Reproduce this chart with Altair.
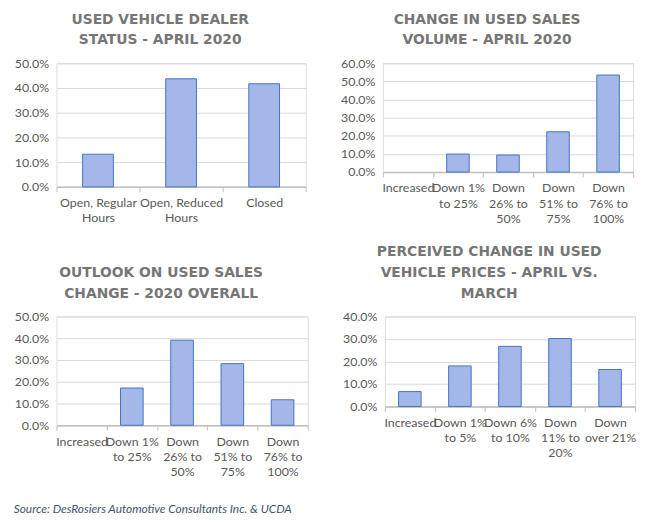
import altair as alt
import pandas as pd

# Panel 1
cats1 = ["Open, Regular|Hours", "Open, Reduced|Hours", "Closed"]
vals1 = [0.132, 0.437, 0.417]
title1 = ["USED VEHICLE DEALER", "STATUS - APRIL 2020"]

# Panel 2
cats2 = ["Increased", "Down 1%|to 25%", "Down|26% to|50%", "Down|51% to|75%", "Down|76% to|100%"]
vals2 = [0.0, 0.099, 0.094, 0.222, 0.535]
title2 = ["CHANGE IN USED SALES", "VOLUME - APRIL 2020"]

# Panel 3
cats3 = ["Increased", "Down 1%|to 25%", "Down|26% to|50%", "Down|51% to|75%", "Down|76% to|100%"]
vals3 = [0.0, 0.171, 0.391, 0.283, 0.117]
title3 = ["OUTLOOK ON USED SALES", "CHANGE - 2020 OVERALL"]

# Panel 4
cats4 = ["Increased", "Down 1%|to 5%", "Down 6%|to 10%", "Down|11% to|20%", "Down|over 21%"]
vals4 = [0.066, 0.180, 0.267, 0.302, 0.164]
title4 = ["PERCEIVED CHANGE IN USED", "VEHICLE PRICES - APRIL VS.", "MARCH"]

source_text = "Source: DesRosiers Automotive Consultants Inc. & UCDA"

FILL = "#a3b8e9"
STROKE = "#4472c4"
LABEL = "#595959"
GRID = "#d9d9d9"


def panel(cats, vals, title, ymax, w, h, band):
    df = pd.DataFrame({"cat": cats, "val": vals})
    yvals = [i / 10 for i in range(int(round(ymax * 10)) + 1)]
    return (
        alt.Chart(
            df,
            title=alt.TitleParams(
                title,
                font="DejaVu Sans",
                fontSize=14,
                fontWeight="bold",
                color="#767676",
                anchor="middle",
                frame="bounds",
                lineHeight=21,
                offset=10,
            ),
        )
        .mark_bar(width=alt.RelativeBandSize(band), fill=FILL, strokeWidth=1)
        .encode(
            x=alt.X(
                "cat:N",
                sort=cats,
                scale=alt.Scale(paddingInner=0, paddingOuter=0),
                axis=alt.Axis(
                    title=None,
                    labelAngle=0,
                    labelExpr="split(datum.label, '|')",
                    labelFont="Lato",
                    labelFontSize=12.5,
                    labelColor=LABEL,
                    labelOverlap=False,
                    labelLineHeight=15.5,
                    labelPadding=5,
                    tickBand="extent",
                    tickColor="#bfbfbf",
                    tickSize=5,
                    domainColor="#bfbfbf",
                    domainWidth=1.5,
                    grid=False,
                ),
            ),
            y=alt.Y(
                "val:Q",
                scale=alt.Scale(domain=[0, ymax], nice=False),
                axis=alt.Axis(
                    title=None,
                    values=yvals,
                    format=".1%",
                    labelFont="Lato",
                    labelFontSize=12.5,
                    labelColor=LABEL,
                    labelPadding=8,
                    ticks=False,
                    domain=False,
                    gridColor=GRID,
                ),
            ),
            stroke=alt.condition(alt.datum.val > 0, alt.value(STROKE), alt.value("transparent")),
        )
        .properties(width=w, height=h)
    )


p1 = panel(cats1, vals1, title1, 0.5, 252, 125, 0.37)
p2 = panel(cats2, vals2, title2, 0.6, 253, 110, 0.45)
p3 = panel(cats3, vals3, title3, 0.5, 254, 110, 0.45)
p4 = panel(cats4, vals4, title4, 0.4, 253, 91, 0.45)

chart = (
    alt.vconcat(
        alt.hconcat(p1, p2, spacing=33),
        alt.hconcat(p3, p4, spacing=33),
        spacing=19,
        title=alt.TitleParams(
            source_text,
            orient="bottom",
            anchor="start",
            font="Lato",
            fontSize=12,
            fontStyle="italic",
            fontWeight="normal",
            color="#44546a",
            offset=26,
        ),
    )
    .properties(padding={"top": 1, "left": 5, "right": 5, "bottom": 5})
    .configure_view(stroke=None)
    .configure(background="white")
)

chart.save("out.html", embed_options={"renderer": "svg", "actions": False})
